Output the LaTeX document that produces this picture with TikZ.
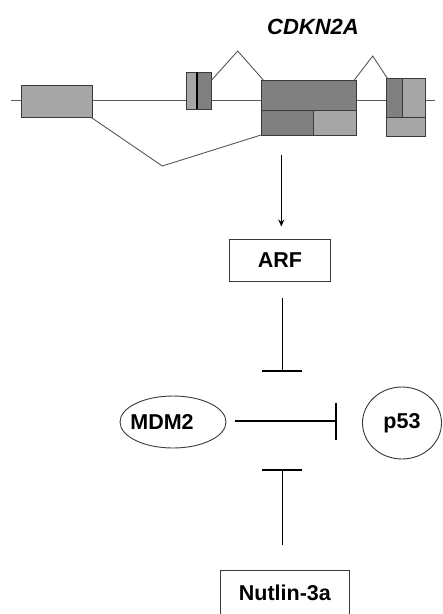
\documentclass[tikz,border=0pt]{standalone}
\usepackage{fontspec}
\setmainfont{Liberation Sans}
\usetikzlibrary{arrows.meta,shapes.geometric}
\definecolor{lightg}{HTML}{A6A6A6}
\definecolor{darkg}{HTML}{808080}
\definecolor{edgeg}{HTML}{3A3A3A}
\begin{document}
\begin{tikzpicture}[x=1pt,y=-1pt,
  exon/.style={draw=edgeg,line width=0.9pt},
  splice/.style={draw=edgeg!85,line width=0.9pt},
  lbl/.style={font=\fontsize{21.5}{25}\selectfont\bfseries},
  boxnode/.style={lbl,draw=edgeg,line width=0.9pt,rectangle,inner sep=0pt},
  oval/.style={lbl,draw=edgeg,line width=0.9pt,ellipse,inner sep=0pt},
  inhibv/.style={line width=1.5pt,-{Bar[width=40pt,line width=1.5pt]}},
  inhibh/.style={line width=1.5pt,-{Bar[width=37pt,line width=1.5pt]}},
  act/.style={line width=1.1pt,-{Stealth[length=7pt,width=6pt]}}]
\clip (0,0) rectangle (443,614);
\fill[white] (0,0) rectangle (443,614);
% gene backbone
\draw[splice] (11,100) -- (435,100);
% exon 1
\filldraw[exon,fill=lightg] (21.7,85.7) rectangle (92.7,117.3);
% exon 2
\filldraw[exon,fill=lightg] (186.7,72.3) rectangle (196.7,109);
\filldraw[exon,fill=darkg] (196.7,72.3) rectangle (211.7,109);
\draw[line width=1.6pt,black] (196.7,72.3) -- (196.7,109);
% big exon
\filldraw[exon,fill=darkg] (261.7,80.3) rectangle (356,110.7);
\filldraw[exon,fill=darkg] (261.7,110.7) rectangle (313.3,135.7);
\filldraw[exon,fill=lightg] (313.3,110.7) rectangle (356,135.7);
% last exon
\filldraw[exon,fill=darkg] (386.7,78.7) rectangle (402.3,117.3);
\filldraw[exon,fill=lightg] (402.3,78.7) rectangle (425.7,117.3);
\filldraw[exon,fill=lightg] (386.7,117.3) rectangle (425.7,136.7);
% splice lines
\draw[splice] (211.7,80) -- (237.7,51) -- (263.3,80);
\draw[splice] (354.3,80) -- (372.7,56) -- (387.7,78.7);
\draw[splice] (91,117.3) -- (162.3,166) -- (261,135);
% gene label
\node[lbl,font=\fontsize{22}{26}\selectfont\bfseries\itshape] (gene) at (313,27) {CDKN2A};
% pathway nodes
\node[boxnode,minimum width=101.7pt,minimum height=42pt] (arf) at (279.9,260) {ARF};
\node[oval,minimum width=106pt,minimum height=52pt] (mdm2) at (173,422) {};
\node[lbl] (mdm2t) at (162,422) {MDM2};
\node[oval,minimum width=79pt,minimum height=72pt] (p53) at (402,423) {p53};
\node[boxnode,minimum width=128.3pt,minimum height=60pt,anchor=north] (nut) at (284.9,570) {};
\node[lbl] (nutl) at (284.9,592.7) {Nutlin-3a};
% connectors
\coordinate (astart) at (281.3,155);
\draw[act] (astart) -- ([yshift=12pt]arf.north -| astart);
\coordinate (bA) at (282.3,371.7);
\draw[inhibv] ([yshift=-16.7pt]arf.south -| bA) -- (bA);
\coordinate (bH) at (336.7,421);
\draw[inhibh] ([xshift=9pt]mdm2.east |- bH) -- (bH);
\coordinate (bN) at (282.3,469);
\draw[inhibv] ([yshift=25pt]nut.north -| bN) -- (bN);
\end{tikzpicture}
\end{document}
